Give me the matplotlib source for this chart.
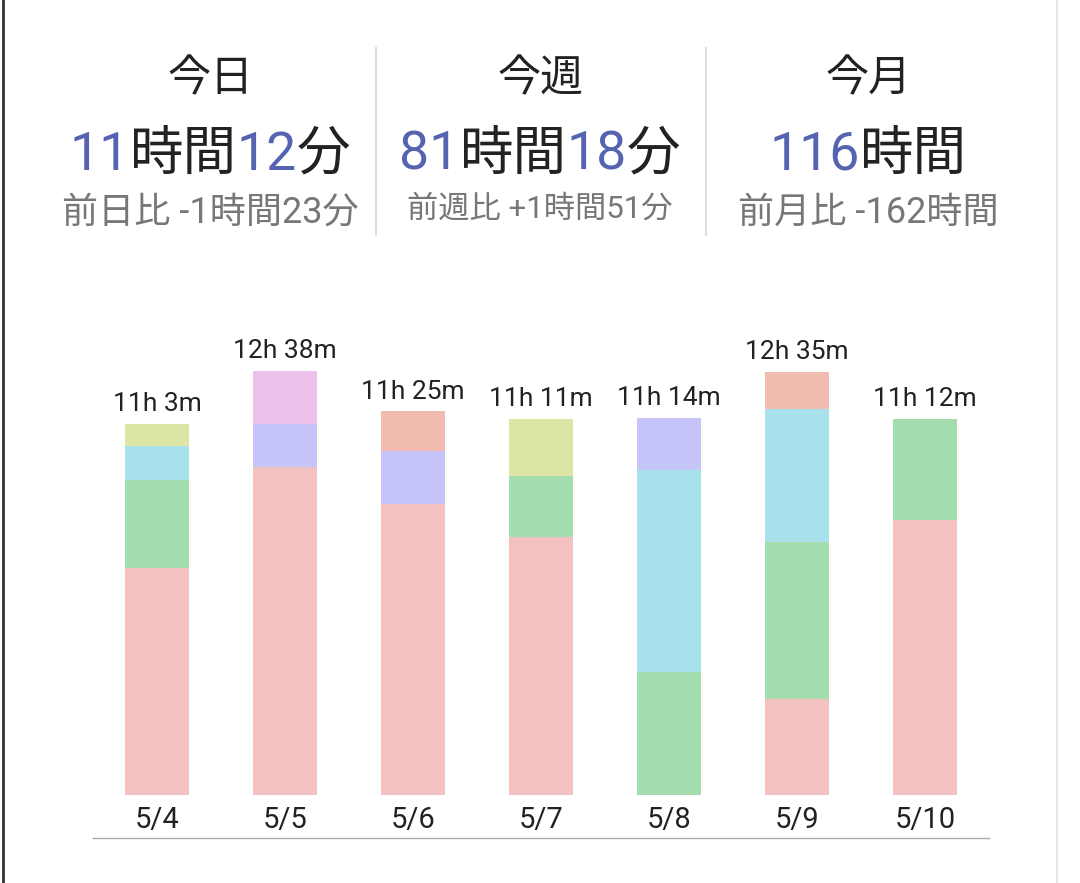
import matplotlib
matplotlib.use("Agg")
import matplotlib.pyplot as plt
from matplotlib.lines import Line2D

plt.rcParams['font.family'] = ['Roboto', 'Noto Sans CJK JP', 'DejaVu Sans']

dates = ["5/4", "5/5", "5/6", "5/7", "5/8", "5/9", "5/10"]
totals = ["11h 3m", "12h 38m", "11h 25m", "11h 11m", "11h 14m", "12h 35m", "11h 12m"]
# minutes per segment, bottom to top
pink   = [405, 586, 520, 461, 0, 171, 491]
green  = [157, 0, 0, 109, 220, 280, 181]
cyan   = [61, 0, 0, 0, 361, 238, 0]
yellow = [40, 0, 0, 101, 0, 0, 0]
purple = [0, 77, 95, 0, 93, 0, 0]
violet = [0, 95, 0, 0, 0, 0, 0]
salmon = [0, 0, 70, 0, 0, 66, 0]
series = [(pink, "#F2C1C1"), (green, "#A6DDAE"), (cyan, "#A8E0EB"), (yellow, "#DDE6A4"),
          (purple, "#C5C5FA"), (violet, "#EBC1EB"), (salmon, "#F2BCB0")]

W, H = 1080, 883
fig = plt.figure(figsize=(10.8, 8.83), dpi=100)
fig.patch.set_facecolor("white")

def px(x, y):
    return x / W, 1 - y / H

fig.add_artist(Line2D([3/W, 3/W], [0, 1], color="#333333", lw=2))
fig.add_artist(Line2D([1057/W, 1057/W], [0, 1], color="#e6e6e6", lw=1.5))
for x in (376, 706):
    fig.add_artist(Line2D([x/W, x/W], [1-48/H, 1-235/H], color="#dddddd", lw=1.5))

ax = fig.add_axes([93/W, 1-795/H, 896/W, 495/H])
bottom = [0]*7
xs = range(7)
for vals, col in series:
    ax.bar(xs, vals, 0.5, bottom=bottom, color=col, edgecolor="none")
    bottom = [b+v for b, v in zip(bottom, vals)]
for i in xs:
    ax.text(i, bottom[i] + 14, totals[i], ha="center", va="bottom", fontsize=19, color="#222222")
ax.set_xlim(-0.5, 6.5)
ax.set_ylim(0, 884)
ax.axis("off")
for i, d in enumerate(dates):
    ax.text(i, -19, d, ha="center", va="top", fontsize=21, color="#222222")
fig.add_artist(Line2D([93/W, 989/W], [1-838/H, 1-838/H], color="#aaaaaa", lw=1))

BLUE = "#5563B0"
GREY = "#777777"
headers = [(210, "今日", [("11", BLUE), ("時間", "#222222"), ("12", BLUE), ("分", "#222222")], "前日比 -1時間23分", 26),
           (540, "今週", [("81", BLUE), ("時間", "#222222"), ("18", BLUE), ("分", "#222222")], "前週比 +1時間51分", 22.5),
           (868, "今月", [("116", BLUE), ("時間", "#222222")], "前月比 -162時間", 26)]
fig.canvas.draw()
r = fig.canvas.get_renderer()
for cx, title, parts, sub, subsz in headers:
    x0, y0 = px(cx, 80)
    fig.text(x0, y0, title, ha="center", va="center", fontsize=31, color="#222222")
    texts = []
    for s, c in parts:
        t = fig.text(0, 1-155/H, s, ha="left", va="center", fontsize=38.5, color=c)
        texts.append(t)
    widths = [t.get_window_extent(r).width for t in texts]
    start = cx - sum(widths)/2
    for t, w in zip(texts, widths):
        t.set_x(start / W)
        start += w
    x0, y0 = px(cx, 213 if subsz > 24 else 209)
    fig.text(x0, y0, sub, ha="center", va="center", fontsize=subsz, color=GREY)

fig.savefig("out.png", dpi=100, facecolor="white")
